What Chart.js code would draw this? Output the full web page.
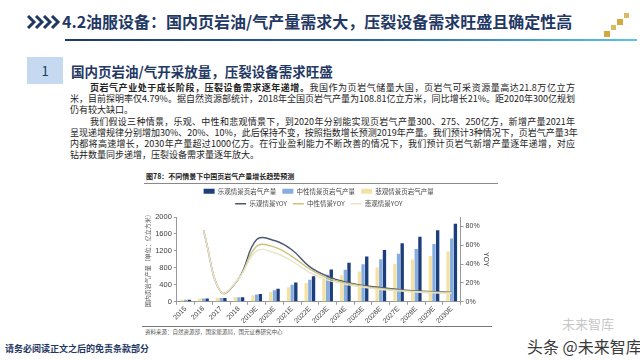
<!DOCTYPE html>
<html lang="zh-CN">
<head>
<meta charset="utf-8">
<script src="https://cdn.jsdelivr.net/npm/chart.js@4.4.1/dist/chart.umd.min.js"></script>
<style>
html, body { margin: 0; padding: 0; }
body { width: 640px; height: 360px; position: relative; overflow: hidden; background: #fff;
  font-family: "Noto Sans CJK SC", "Noto Sans", sans-serif; color: #222; }
.abs { position: absolute; white-space: nowrap; }
#title { left: 62px; top: 9px; font-size: 16px; font-weight: bold; color: #1f3864; }
#rule { left: 65px; top: 39px; width: 572px; height: 2px;
  background: linear-gradient(90deg, #1f3864 0%, #2a62a8 55%, #5cc4e2 100%); }
.sq { position: absolute; background: #d2a93c; }
#numbox { left: 27px; top: 57px; width: 36px; height: 27px; background: #c5d9f1;
  color: #1f3864; font-size: 13px; text-align: center; line-height: 27px; }
#heading { left: 71px; top: 61px; font-size: 13.5px; font-weight: bold; color: #1f3864; }
.para { position: absolute; left: 70px; width: 505px; font-size: 9px; line-height: 11px;
  white-space: nowrap; text-align: justify; text-align-last: justify; color: #222; }
.para.short { text-align-last: left; }
#caption { left: 146px; top: 171px; font-size: 7px; font-weight: bold; color: #222; }
#capline { left: 144px; top: 183px; width: 354px; height: 1px; background: #8a8a8a; }
#chartbox { position: absolute; left: 144px; top: 182px; width: 348px; height: 143px; }
#srcline { left: 142px; top: 326px; width: 350px; height: 1px; background: #777; }
#source { left: 145px; top: 328px; font-size: 5.5px; color: #555; }
#footer { left: 5px; top: 342px; font-size: 9px; font-weight: bold; color: #1f3864; }
#wm1 { left: 562px; top: 314px; font-size: 13px; color: #c8c8c8; }
#wm2 { left: 527px; top: 334px; font-size: 16px; color: #3a3a3a; }
</style>
</head>
<body>
<svg class="abs" style="left:27px;top:15px" width="34" height="14" viewBox="0 0 34 14">
  <polyline points="1,1 7,7 1,13" fill="none" stroke="#1f3864" stroke-width="3"/>
  <polyline points="9,1 15,7 9,13" fill="none" stroke="#1f3864" stroke-width="3"/>
  <polyline points="17,1 23,7 17,13" fill="none" stroke="#1f3864" stroke-width="3"/>
  <polyline points="25,1 31,7 25,13" fill="none" stroke="#1f3864" stroke-width="3"/>
</svg>
<div id="title" class="abs">4.2油服设备：国内页岩油/气产量需求大，压裂设备需求旺盛且确定性高</div>
<div id="rule" class="abs"></div>
<div class="sq" style="left:604px;top:31px;width:6px;height:6px"></div>
<div class="sq" style="left:611px;top:25px;width:5px;height:5px;opacity:.8"></div>
<div class="sq" style="left:617px;top:19px;width:6px;height:6px"></div>
<div class="sq" style="left:624px;top:13px;width:5px;height:5px;opacity:.8"></div>

<div id="numbox" class="abs">1</div>
<div id="heading" class="abs">国内页岩油/气开采放量，压裂设备需求旺盛</div>

<div class="para" style="top:82px"><span style="padding-left:20px;font-weight:bold">页岩气产业处于成长阶段，压裂设备需求逐年递增。</span>我国作为页岩气储量大国，页岩气可采资源量高达21.8万亿立方</div>
<div class="para" style="top:93px">米，目前探明率仅4.79%。据自然资源部统计，2018年全国页岩气产量为108.81亿立方米，同比增长21%。距2020年300亿规划</div>
<div class="para short" style="top:104px">仍有较大缺口。</div>
<div class="para" style="top:116px"><span style="padding-left:20px"></span>我们假设三种情景，乐观、中性和悲观情景下，到2020年分别能实现页岩气产量300、275、250亿方，新增产量2021年</div>
<div class="para" style="top:127px">呈现递增规律分别增加30%、20%、10%，此后保持不变，按照指数增长预测2019年产量。我们预计3种情况下，页岩气产量3年</div>
<div class="para" style="top:138px">内都将高速增长，2030年产量超过1000亿方。在行业盈利能力不断改善的情况下，我们预计页岩气新增产量逐年递增，对应</div>
<div class="para short" style="top:149px">钻井数量同步递增，压裂设备需求量逐年放大。</div>

<div id="caption" class="abs">图78：不同情景下中国页岩气产量增长趋势预测</div>
<div id="capline" class="abs"></div>
<div id="chartbox"><canvas id="chart"></canvas></div>
<div id="srcline" class="abs"></div>
<div id="source" class="abs">资料来源：自然资源部，国家能源局，国元证券研究中心</div>
<div id="footer" class="abs">请务必阅读正文之后的免责条款部分</div>
<div id="wm1" class="abs">未来智库</div>
<div id="wm2" class="abs">头条 @未来智库</div>

<script>
// years on the x axis
const years = ["2015", "2016", "2017", "2018", "2019E", "2020E", "2021E", "2022E",
  "2023E", "2024E", "2025E", "2026E", "2027E", "2028E", "2029E", "2030E"];

// output, 亿立方米
const optimisticOutput = [45, 78, 88, 108, 185, 305, 455, 600, 762, 918, 1070, 1224, 1378, 1532, 1686, 1840];
const neutralOutput = [45, 78, 88, 108, 170, 272, 400, 520, 640, 758, 884, 1004, 1130, 1246, 1365, 1494];
const pessimisticOutput = [45, 78, 88, 108, 155, 232, 344, 440, 535, 624, 712, 808, 898, 996, 1080, 1186];

// YOY, %
const optimisticYoy = [null, 76, 10, 25, 66, 65, 55, 37, 27, 21, 17.3, 15, 13, 11.5, 10.8, 10];
const neutralYoy = [null, 76, 10, 25, 59, 58, 48, 34.5, 25, 20, 16.5, 14, 12.3, 11, 10.2, 9.6];
const pessimisticYoy = [null, 76, 10, 25, 54, 52, 43, 31, 23, 18.5, 15.5, 13, 11.5, 10.3, 9.5, 9];

const leftTicks = [0, 200, 400, 600, 800, 1000, 1200, 1400, 1600, 1800, 2000];
const rightTicks = [0, 10, 20, 30, 40, 50, 60, 70, 80, 90];

const axisGrey = "#9a9a9a";
const tickColor = "#404040";

function barSet(label, data, color, order) {
    return { type: "bar", label: label, data: data, backgroundColor: color, yAxisID: "y",
        pointStyle: "rect", order: order, categoryPercentage: 0.62, barPercentage: 0.92 };
}

function lineSet(label, data, color, order) {
    return { type: "line", label: label, data: data, borderColor: color, backgroundColor: color,
        borderWidth: 1.4, pointRadius: 0, pointStyle: "line", tension: 0.4, yAxisID: "y1", order: order };
}

const my_chart = new Chart("chart", {
    data: {
        labels: years,
        datasets: [
            barSet("乐观情景页岩气产量", optimisticOutput, "#1c3f7c", 5),
            barSet("中性情景页岩气产量", neutralOutput, "#86addf", 4),
            barSet("悲观情景页岩气产量", pessimisticOutput, "#f4e2a4", 3),
            lineSet("乐观情景YOY", optimisticYoy, "#4a5870", 2),
            lineSet("中性情景YOY", neutralYoy, "#cdc27a", 1),
            lineSet("悲观情景YOY", pessimisticYoy, "#e9e3cb", 0)
        ]
    },
    options: {
        responsive: true,
        maintainAspectRatio: false,
        animation: false,
        devicePixelRatio: 1,
        layout: { padding: 0 },
        plugins: {
            tooltip: { enabled: false },
            legend: {
                position: "top",
                fullSize: false,
                labels: {
                    usePointStyle: true,
                    pointStyleWidth: 11,
                    boxHeight: 5,
                    padding: 6,
                    color: "#444",
                    font: { size: 6.5, lineHeight: 1, family: "Noto Sans CJK SC" },
                    sort: (a, b) => a.datasetIndex - b.datasetIndex
                }
            }
        },
        scales: {
            x: {
                type: "category",
                grid: { drawOnChartArea: false, tickLength: 3, color: axisGrey },
                border: { color: axisGrey },
                ticks: { color: tickColor, font: { size: 7 }, maxRotation: 45, minRotation: 45,
                    autoSkip: false, padding: 0 }
            },
            y: {
                type: "linear",
                position: "left",
                min: 0, max: 2000,
                afterBuildTicks: (axis) => { axis.ticks = leftTicks.map(v => ({ value: v })); },
                grid: { drawOnChartArea: false, tickLength: 3, color: axisGrey },
                border: { color: axisGrey },
                ticks: { color: tickColor, font: { size: 7.5 }, padding: 2, callback: (v) => String(v) },
                title: { display: true, text: "国内页岩气产量（单位：亿立方米）", color: "#555",
                    font: { size: 6, family: "Noto Sans CJK SC" }, padding: { top: 0, bottom: 2 } }
            },
            y1: {
                type: "linear",
                position: "right",
                min: 0, max: 90,
                afterBuildTicks: (axis) => { axis.ticks = rightTicks.map(v => ({ value: v })); },
                grid: { drawOnChartArea: false, tickLength: 3, color: axisGrey },
                border: { color: axisGrey },
                ticks: { color: tickColor, font: { size: 7 }, padding: 2, callback: (v) => v + "%" },
                title: { display: true, text: "YOY", color: "#444", font: { size: 7 },
                    padding: { top: 2, bottom: 0 } }
            }
        }
    }
});
</script>
</body>
</html>
